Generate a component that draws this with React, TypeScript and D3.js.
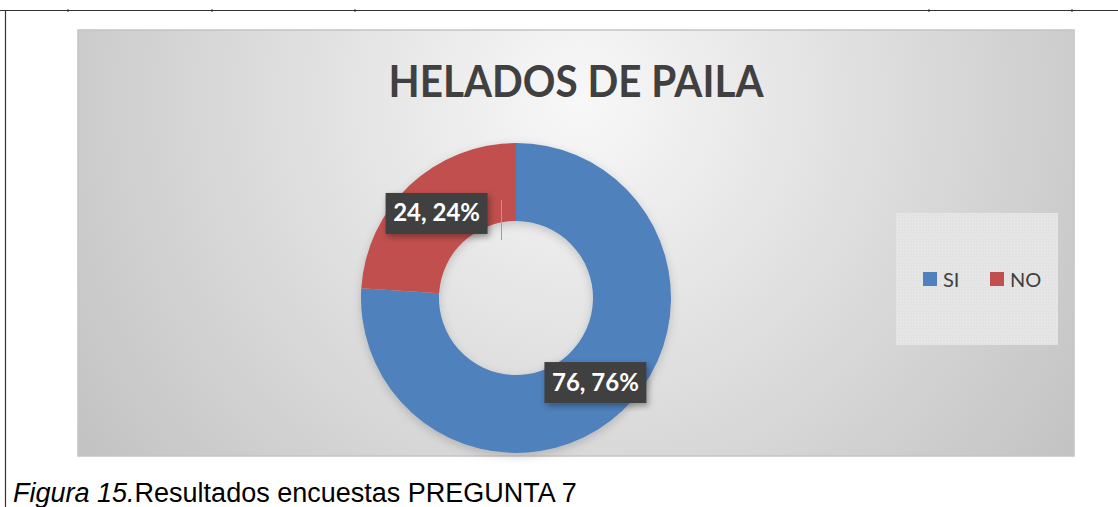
import React from 'react'
import * as d3 from 'd3'

const categories = ['SI', 'NO']
const values = [76, 24]
const percents = ['76%', '24%']
const colors = ['#4f81bd', '#c0504d']
const title = 'HELADOS DE PAILA'

export default function App() {
  const width = 1118
  const height = 507

  // chart area (grey panel)
  const area = { x: 78, y: 30, w: 996, h: 426 }
  const cx = 516
  const cy = 298
  const outerR = 155
  const innerR = 77

  const pie = d3.pie<number>().sort(null).startAngle(0).endAngle(Math.PI * 2)
  const arcs = pie(values)
  const arc = d3.arc<d3.PieArcDatum<number>>().innerRadius(innerR).outerRadius(outerR)
  const labelArc = d3.arc<d3.PieArcDatum<number>>().innerRadius(innerR).outerRadius(outerR)

  const font = 'Lato, "Open Sans", sans-serif'

  return (
    <svg width={width} height={height} style={{ position: 'absolute', left: 0, top: 0, background: '#fff' }}>
      <defs>
        <radialGradient id="bg" gradientUnits="userSpaceOnUse" cx={580} cy={100} r={650}>
          <stop offset="0" stopColor="#f8f8f8" />
          <stop offset="1" stopColor="#bfbfbf" />
        </radialGradient>
        <filter id="shadow" x="-20%" y="-20%" width="140%" height="140%">
          <feDropShadow dx="2" dy="3" stdDeviation="3" floodColor="#000" floodOpacity="0.35" />
        </filter>
        <filter id="donutShadow" x="-20%" y="-20%" width="140%" height="140%">
          <feDropShadow dx="0" dy="3" stdDeviation="5" floodColor="#000" floodOpacity="0.18" />
        </filter>
        <pattern id="dots" width="3" height="3" patternUnits="userSpaceOnUse">
          <rect width="3" height="3" fill="#e3e3e3" />
          <rect width="1" height="1" fill="#ececec" />
        </pattern>
      </defs>

      {/* document frame */}
      <line x1={0} x2={width} y1={10.5} y2={10.5} stroke="#333" strokeWidth={1.2} />
      <line x1={5.5} x2={5.5} y1={10} y2={height} stroke="#333" strokeWidth={1.2} />
      {[68, 212, 355, 929, 1072].map(x => (
        <line key={x} x1={x} x2={x} y1={9} y2={12} stroke="#333" strokeWidth={1} />
      ))}

      {/* chart panel */}
      <rect x={area.x} y={area.y} width={area.w} height={area.h} fill="url(#bg)" stroke="#c4c4c4" strokeWidth={1.5} />

      <text x={576} y={97} textAnchor="middle" fontFamily={font} fontWeight={700} fontSize={44}
        fill="#404040" textLength={375} lengthAdjust="spacingAndGlyphs">{title}</text>

      {/* donut */}
      <g transform={`translate(${cx},${cy})`} filter="url(#donutShadow)">
        {arcs.map((d, i) => (
          <path key={categories[i]} d={arc(d) || ''} fill={colors[i]} />
        ))}
      </g>

      {/* leader line */}
      <line x1={501.5} x2={501.5} y1={200} y2={240} stroke="#a0a0a0" strokeWidth={1} />

      {/* data labels */}
      {arcs.map((d, i) => {
        const [lx, ly] = labelArc.centroid(d)
        const bw = 102
        const bh = 41
        return (
          <g key={'lab' + i} transform={`translate(${cx + lx},${cy + ly})`}>
            <rect x={-bw / 2} y={-bh / 2} width={bw} height={bh} fill="#404040" filter="url(#shadow)" />
            <text x={0} y={8} textAnchor="middle" fontFamily={font} fontWeight={700} fontSize={24} fill="#fff">
              {`${values[i]}, ${percents[i]}`}
            </text>
          </g>
        )
      })}

      {/* legend */}
      <rect x={896} y={213} width={162} height={132} fill="url(#dots)" />
      {categories.map((c, i) => {
        const lx = 923 + i * 67
        return (
          <g key={'leg' + c}>
            <rect x={lx} y={272} width={14} height={14} fill={colors[i]} />
            <text x={lx + 20} y={287} fontFamily={font} fontSize={20} fill="#404040">{c}</text>
          </g>
        )
      })}

      {/* caption */}
      <text x={13} y={502} fontFamily='"Liberation Sans", Arial, sans-serif' fontSize={27} fill="#000">
        <tspan fontStyle="italic">Figura 15.</tspan>
        <tspan>Resultados encuestas PREGUNTA 7</tspan>
      </text>
    </svg>
  )
}
